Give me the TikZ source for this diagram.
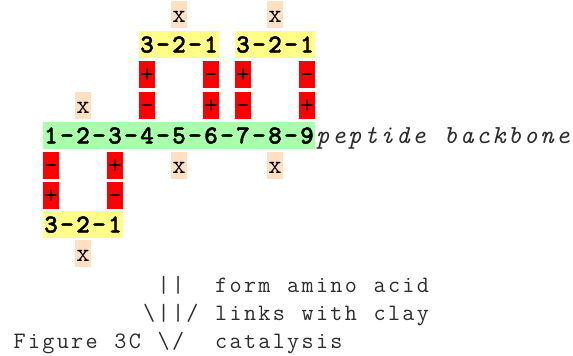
\documentclass[tikz,border=0pt]{standalone}
\usepackage{fontspec}
\newfontfamily\monobold{lmmonolt10-bold.otf}[FakeBold=1.6]
\definecolor{bbgreen}{RGB}{170,255,170}
\definecolor{tripyellow}{RGB}{255,255,136}
\definecolor{chargered}{RGB}{255,0,0}
\definecolor{sitepeach}{RGB}{255,224,192}
\definecolor{notegray}{RGB}{45,45,45}
\def\gridtext#1#2{\def\gridw{#1}\gridloop#2\relax}
\def\gridloop#1{\ifx#1\relax\else\makebox[\gridw]{#1}\expandafter\gridloop\fi}
\tikzset{
  cell/.style={anchor=north west, inner sep=0pt, outer sep=0pt,
    text height=21.5pt, text depth=5.5pt,
    font=\ttfamily\fontsize{26pt}{27pt}\selectfont},
  chain/.style={cell, fill=bbgreen, font=\monobold\fontsize{26pt}{27pt}\selectfont},
  trip/.style={cell, fill=tripyellow, font=\monobold\fontsize{26pt}{27pt}\selectfont},
  chg/.style={cell, fill=chargered, minimum width=16pt},
  site/.style={cell, fill=sitepeach, minimum width=16pt},
  label/.style={cell, text=notegray, font=\ttfamily\itshape\fontsize{26pt}{27pt}\selectfont},
  note/.style={anchor=base west, inner sep=0pt, outer sep=0pt, text=notegray,
    font=\ttfamily\fontsize{23.5pt}{28pt}\selectfont}
}
\begin{document}
\begin{tikzpicture}[x=1pt,y=1pt]
\useasboundingbox (0,0) rectangle (573,-356);
% row 0
\node[site] (xa) at (171,-1) {\gridtext{16pt}{x}};
\node[site] (xb) at (267,-1) {\gridtext{16pt}{x}};
% row 1
\node[trip] (ta) at (139,-31) {\gridtext{16pt}{3-2-1}};
\node[trip] (tb) at (235,-31) {\gridtext{16pt}{3-2-1}};
% row 2
\node[chg] (c1) at (139,-61) {\gridtext{16pt}{+}};
\node[chg] (c2) at (203,-61) {\gridtext{16pt}{-}};
\node[chg] (c3) at (235,-61) {\gridtext{16pt}{+}};
\node[chg] (c4) at (299,-61) {\gridtext{16pt}{-}};
% row 3
\node[site] (xc) at (75,-91.5) {\gridtext{16pt}{x}};
\node[chg] (c5) at (139,-91.5) {\gridtext{16pt}{-}};
\node[chg] (c6) at (203,-91.5) {\gridtext{16pt}{+}};
\node[chg] (c7) at (235,-91.5) {\gridtext{16pt}{-}};
\node[chg] (c8) at (299,-91.5) {\gridtext{16pt}{+}};
% row 4 backbone
\node[chain] (bb) at (43,-122) {\gridtext{16pt}{1-2-3-4-5-6-7-8-9}};
\node[label] (bbl) at (315,-122) {\gridtext{16pt}{peptide~backbone}};
% row 5
\node[chg] (c9) at (43,-152) {\gridtext{16pt}{-}};
\node[chg] (c10) at (107,-152) {\gridtext{16pt}{+}};
\node[site] (xd) at (171,-152) {\gridtext{16pt}{x}};
\node[site] (xe) at (267,-152) {\gridtext{16pt}{x}};
% row 6
\node[chg] (c11) at (43,-181.5) {\gridtext{16pt}{+}};
\node[chg] (c12) at (107,-181.5) {\gridtext{16pt}{-}};
% row 7
\node[trip] (tc) at (43,-211) {\gridtext{16pt}{3-2-1}};
% row 8
\node[site] (xf) at (75,-240) {\gridtext{16pt}{x}};
% bottom note
\node[note] (n1) at (12.5,-292) {\gridtext{14.4pt}{~~~~~~~~~~||~~form~amino~acid}};
\node[note] (n2) at (12.5,-320) {\gridtext{14.4pt}{~~~~~~~~~\textbackslash||/~links~with~clay}};
\node[note] (n3) at (12.5,-348) {\gridtext{14.4pt}{Figure~3C~\textbackslash/~~catalysis}};
\end{tikzpicture}
\end{document}
